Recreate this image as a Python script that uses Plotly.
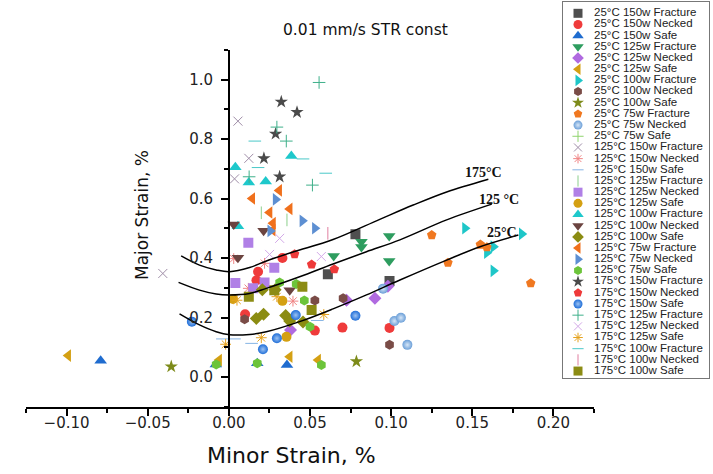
import plotly.graph_objects as go

W, H = 713, 474

# ---------------- data (minor strain x, major strain y) ----------------
x_25_150_F = [0.078, 0.061, 0.099];  y_25_150_F = [0.480, 0.345, 0.323]
x_25_150_N = [0.018, 0.017, 0.033, 0.010, 0.053, 0.070, 0.099]
y_25_150_N = [0.354, 0.325, 0.400, 0.211, 0.156, 0.166, 0.165]
x_25_150_S = [-0.079, -0.008, 0.0175, 0.0358];  y_25_150_S = [0.055, 0.042, 0.046, 0.040]
x_25_125_F = [0.0646, 0.0817, 0.0817, 0.0988, 0.0988]
y_25_125_F = [0.407, 0.455, 0.437, 0.474, 0.390]
x_25_125_N = [0.038, 0.0725, 0.090, 0.098];  y_25_125_N = [0.158, 0.258, 0.265, 0.305]
x_25_125_S = [-0.099, -0.006, 0.0375, 0.055];  y_25_125_S = [0.072, 0.057, 0.068, 0.057]
x_25_100_F = [0.1455, 0.1805, 0.163, 0.159, 0.163]
y_25_100_F = [0.500, 0.481, 0.438, 0.418, 0.357]
x_25_100_N = [0.0097, 0.053, 0.0704, 0.099];  y_25_100_N = [0.194, 0.257, 0.265, 0.108]
x_25_100_S = [-0.0355, 0.0786];  y_25_100_S = [0.035, 0.052]
x_25_75_F = [0.125, 0.155, 0.159, 0.135, 0.186];  y_25_75_F = [0.477, 0.445, 0.436, 0.384, 0.315]
x_25_75_N = [0.095, 0.102, 0.106, 0.110];  y_25_75_N = [0.297, 0.188, 0.199, 0.108]
x_25_75_S = [];  y_25_75_S = []

x_125_150_F = [0.0056, 0.0123, 0.0035, -0.0407];  y_125_150_F = [0.860, 0.735, 0.666, 0.348]
x_125_150_N = [0.003, 0.022, 0.012, 0.0395];  y_125_150_N = [0.398, 0.382, 0.298, 0.255]
x_125_150_S = [-0.004, 0.0035, 0.014, 0.0545];  y_125_150_S = [0.128, 0.128, 0.113, 0.190]
x_125_125_F = [0.0358, 0.020];  y_125_125_F = [0.528, 0.552]
x_125_125_N = [0.012, 0.028, 0.004, 0.022, 0.015];  y_125_125_N = [0.451, 0.367, 0.316, 0.318, 0.298]
x_125_125_S = [0.0025, 0.033, 0.0355];  y_125_125_S = [0.262, 0.256, 0.135]
x_125_100_F = [0.004, 0.0123, 0.0227, 0.0385, 0.0056];  y_125_100_F = [0.705, 0.654, 0.657, 0.743, 0.507]
x_125_100_N = [0.003, 0.0214, 0.0056, 0.0375];  y_125_100_N = [0.513, 0.492, 0.401, 0.292]
x_125_100_S = [0.0169, 0.0214, 0.035, 0.0375, 0.0457, 0.0206, 0.0285]
y_125_100_S = [0.197, 0.211, 0.207, 0.188, 0.185, 0.293, 0.293]
x_125_75_F = [0.0144, 0.031, 0.0251, 0.0375, 0.0272, 0.027]
y_125_75_F = [0.600, 0.627, 0.553, 0.565, 0.517, 0.494]
x_125_75_N = [0.0288, 0.0453, 0.053, 0.0255];  y_125_75_N = [0.597, 0.525, 0.500, 0.491]
x_125_75_S = [0.0313, 0.0415, 0.0465, 0.050, -0.0078, 0.0175, 0.057]
y_125_75_S = [0.318, 0.313, 0.257, 0.169, 0.042, 0.046, 0.040]

x_175_150_F = [0.0323, 0.042, 0.0288, 0.0216, 0.0313];  y_175_150_F = [0.925, 0.890, 0.817, 0.735, 0.673]
x_175_150_N = [0.0405, 0.051, 0.065];  y_175_150_N = [0.413, 0.378, 0.362]
x_175_150_S = [-0.0228, 0.021, 0.0296, 0.0412, 0.078];  y_175_150_S = [0.186, 0.093, 0.130, 0.208, 0.206]
x_175_125_F = [0.0556, 0.0296, 0.0354, 0.0125, 0.0515];  y_175_125_F = [0.990, 0.840, 0.793, 0.673, 0.645]
x_175_125_N = [0.0313, 0.0251, 0.057];  y_175_125_N = [0.466, 0.412, 0.405]
x_175_125_S = [-0.002, 0.020, 0.0585, 0.0296, 0.005];  y_175_125_S = [0.110, 0.132, 0.210, 0.270, 0.258]
x_175_100_F = [0.016, 0.018, 0.0457, 0.0597];  y_175_100_F = [0.793, 0.704, 0.733, 0.685]
x_175_100_N = [0.061];  y_175_100_N = [0.483]
x_175_100_S = [0.0123, 0.028, 0.0453, 0.051];  y_175_100_S = [0.270, 0.292, 0.303, 0.225]

# forming limit curves
flc175_x = [-0.0294, -0.0181, -0.0078, 0.0004, 0.0128, 0.0231, 0.0395, 0.0642, 0.093, 0.1136, 0.1342, 0.1599]
flc175_y = [0.407, 0.376, 0.360, 0.354, 0.368, 0.390, 0.420, 0.462, 0.530, 0.578, 0.622, 0.665]
flc125_x = [-0.0310, -0.0181, -0.0078, 0.0004, 0.0128, 0.0231, 0.0436, 0.0642, 0.0848, 0.1054, 0.1342, 0.162]
flc125_y = [0.318, 0.292, 0.279, 0.276, 0.281, 0.298, 0.337, 0.380, 0.421, 0.461, 0.528, 0.581]
flc25_x = [-0.0304, -0.0181, -0.0078, 0.0004, 0.0128, 0.0231, 0.0436, 0.0642, 0.0848, 0.1054, 0.1342, 0.1548, 0.1784]
flc25_y = [0.212, 0.175, 0.152, 0.142, 0.143, 0.152, 0.186, 0.229, 0.276, 0.326, 0.393, 0.438, 0.477]
flc_labels = ["175°C", "125 °C", "25°C"]
flc_label_x = [0.1566, 0.1665, 0.1684]
flc_label_y = [0.689, 0.595, 0.485]

series_names = [
    "25°C 150w Fracture", "25°C 150w Necked", "25°C 150w Safe",
    "25°C 125w Fracture", "25°C 125w Necked", "25°C 125w Safe",
    "25°C 100w Fracture", "25°C 100w Necked", "25°C 100w Safe",
    "25°C 75w Fracture", "25°C 75w Necked", "25°C 75w Safe",
    "125°C 150w Fracture", "125°C 150w Necked", "125°C 150w Safe",
    "125°C 125w Fracture", "125°C 125w Necked", "125°C 125w Safe",
    "125°C 100w Fracture", "125°C 100w Necked", "125°C 100w Safe",
    "125°C 75w Fracture", "125°C 75w Necked", "125°C 75w Safe",
    "175°C 150w Fracture", "175°C 150w Necked", "175°C 150w Safe",
    "175°C 125w Fracture", "175°C 125w Necked", "175°C 125w Safe",
    "175°C 100w Fracture", "175°C 100w Necked", "175°C 100w Safe",
]
series_x = [x_25_150_F, x_25_150_N, x_25_150_S, x_25_125_F, x_25_125_N, x_25_125_S,
            x_25_100_F, x_25_100_N, x_25_100_S, x_25_75_F, x_25_75_N, x_25_75_S,
            x_125_150_F, x_125_150_N, x_125_150_S, x_125_125_F, x_125_125_N, x_125_125_S,
            x_125_100_F, x_125_100_N, x_125_100_S, x_125_75_F, x_125_75_N, x_125_75_S,
            x_175_150_F, x_175_150_N, x_175_150_S, x_175_125_F, x_175_125_N, x_175_125_S,
            x_175_100_F, x_175_100_N, x_175_100_S]
series_y = [y_25_150_F, y_25_150_N, y_25_150_S, y_25_125_F, y_25_125_N, y_25_125_S,
            y_25_100_F, y_25_100_N, y_25_100_S, y_25_75_F, y_25_75_N, y_25_75_S,
            y_125_150_F, y_125_150_N, y_125_150_S, y_125_125_F, y_125_125_N, y_125_125_S,
            y_125_100_F, y_125_100_N, y_125_100_S, y_125_75_F, y_125_75_N, y_125_75_S,
            y_175_150_F, y_175_150_N, y_175_150_S, y_175_125_F, y_175_125_N, y_175_125_S,
            y_175_100_F, y_175_100_N, y_175_100_S]

# ---------------- styles ----------------
symbols = [
    "square", "circle", "triangle-up", "triangle-down", "diamond", "triangle-left",
    "triangle-right", "hexagon", "star", "pentagon", "circle", "cross-thin",
    "x-thin", "asterisk", "line-ew", "line-ns", "square", "circle",
    "triangle-up", "triangle-down", "diamond", "triangle-left", "triangle-right", "hexagon",
    "star", "pentagon", "circle", "cross-thin", "x-thin", "asterisk",
    "line-ew", "line-ns", "square",
]
colors = [
    "#4f4f4f", "#ef3b3b", "#1f6ccf", "#2e9d5f", "#b06ae0", "#d4a013",
    "#1ec6c8", "#7a4c47", "#7d8b1a", "#f07820", "#6b9fd8", "#8fd46e",
    "#a08ea8", "#f08585", "#86b4e4", "#8ccf8c", "#b080e6", "#d4a012",
    "#1ec8cb", "#6b4440", "#8b8c12", "#f0701c", "#5d8fd2", "#6cc43a",
    "#4a4a4a", "#ee3a3a", "#1f6ed8", "#3fb08a", "#d3a9e8", "#e5a21e",
    "#4ac8c8", "#e07fa0", "#8c8c14",
]
sphere_highlight = {10: "#d6e6f7", 26: "#9cc2f2"}
thin = {"cross-thin", "x-thin", "asterisk", "line-ew", "line-ns"}


def marker_style(i, size=10):
    s = symbols[i]
    c = colors[i]
    sz = size
    if s in ("triangle-up", "triangle-down", "triangle-left", "triangle-right"):
        sz = size + 1
    elif s in thin:
        sz = size - 1
    m = dict(symbol=s, size=sz, color=c)
    if s in thin:
        m["line"] = dict(color=c, width=1)
    else:
        m["line"] = dict(width=0)
    if i in sphere_highlight:
        m["gradient"] = dict(type="radial", color=sphere_highlight[i])
    return m


# ---------------- layout geometry (pixels) ----------------
plot_l, plot_r, plot_t, plot_b = 26, 594, 49.75, 406.75
x_range = [-0.125, 0.225]
y_range = [-0.1, 1.1]
leg_l, leg_r, leg_t, leg_b = 563, 709, 2, 378


def px(v):
    return v / W


def py(v):
    return 1 - v / H


fig = go.Figure()

for i in range(len(series_names)):
    fig.add_trace(go.Scatter(x=series_x[i], y=series_y[i], mode="markers",
                             name=series_names[i], marker=marker_style(i),
                             showlegend=False, xaxis="x", yaxis="y"))

for cx, cy in [(flc175_x, flc175_y), (flc125_x, flc125_y), (flc25_x, flc25_y)]:
    fig.add_trace(go.Scatter(x=cx, y=cy, mode="lines", line=dict(color="black", width=1.5, shape="spline"),
                             showlegend=False, hoverinfo="skip", xaxis="x", yaxis="y"))

for t, lx, ly in zip(flc_labels, flc_label_x, flc_label_y):
    fig.add_annotation(x=lx, y=ly, xref="x", yref="y", text="<b>%s</b>" % t, showarrow=False,
                       xanchor="center", yanchor="middle",
                       font=dict(family="Liberation Serif, Times New Roman", size=14, color="#111"))

# ---------------- custom legend on its own axes ----------------
n = len(series_names)
leg_h = leg_b - leg_t
first, step = 11.3, 11.18
for i in range(n):
    yy = first + step * i
    fig.add_trace(go.Scatter(x=[15], y=[yy], mode="markers", marker=marker_style(i, size=9),
                             showlegend=False, hoverinfo="skip", xaxis="x2", yaxis="y2", cliponaxis=False))
fig.add_trace(go.Scatter(x=[31] * n, y=[first + step * i for i in range(n)], mode="text",
                         text=series_names, textposition="middle right",
                         textfont=dict(family="Liberation Sans, Arial", size=11.5, color="#222"),
                         showlegend=False, hoverinfo="skip", xaxis="x2", yaxis="y2", cliponaxis=False))

y_axis_pos = px(plot_l) + (0 - x_range[0]) / (x_range[1] - x_range[0]) * (px(plot_r) - px(plot_l))
tick_font = dict(family="DejaVu Sans", size=15, color="#222")

fig.update_layout(
    width=W, height=H,
    margin=dict(l=0, r=0, t=0, b=0),
    paper_bgcolor="white", plot_bgcolor="white",
    showlegend=False,
    xaxis=dict(domain=[px(plot_l), px(plot_r)], range=x_range, anchor="y",
               showline=True, linecolor="black", linewidth=1.5, showgrid=False, zeroline=False,
               ticks="outside", ticklen=7, tickwidth=1.5, tickcolor="black", ticklabelstandoff=-6,
               tick0=0, dtick=0.05, tickformat=".2f", tickfont=tick_font,
               minor=dict(ticks="outside", ticklen=4, tickwidth=1.5, tickcolor="black", tick0=0, dtick=0.025)),
    yaxis=dict(domain=[py(plot_b), py(plot_t)], range=y_range, anchor="free", position=y_axis_pos,
               showline=True, linecolor="black", linewidth=1.5, showgrid=False, zeroline=False,
               ticks="outside", ticklen=7, tickwidth=1.5, tickcolor="black", ticklabelstandoff=5,
               tick0=0, dtick=0.2, tickformat=".1f", tickfont=tick_font,
               minor=dict(ticks="outside", ticklen=4, tickwidth=1.5, tickcolor="black", tick0=0, dtick=0.1)),
    xaxis2=dict(domain=[px(leg_l), px(leg_r)], range=[0, leg_r - leg_l], anchor="y2",
                showline=True, mirror=True, linecolor="#777", linewidth=1,
                showgrid=False, zeroline=False, showticklabels=False, ticks=""),
    yaxis2=dict(domain=[py(leg_b), py(leg_t)], range=[leg_h, 0], anchor="x2",
                showline=True, mirror=True, linecolor="#777", linewidth=1,
                showgrid=False, zeroline=False, showticklabels=False, ticks=""),
)

fig.add_annotation(x=px(365), y=py(30), xref="paper", yref="paper", text="0.01 mm/s STR const",
                   xanchor="center", yanchor="middle",
                   showarrow=False, font=dict(family="DejaVu Sans", size=15.5, color="#111"))
fig.add_annotation(x=px(291), y=py(455), xref="paper", yref="paper", text="Minor Strain, %",
                   xanchor="center", yanchor="middle",
                   showarrow=False, font=dict(family="DejaVu Sans", size=22, color="#111"))
fig.add_annotation(x=px(142), y=py(215), xref="paper", yref="paper", text="Major Strain, %",
                   xanchor="center", yanchor="middle",
                   textangle=-90, showarrow=False, font=dict(family="DejaVu Sans", size=17, color="#111"))

fig.write_html("out.html")
